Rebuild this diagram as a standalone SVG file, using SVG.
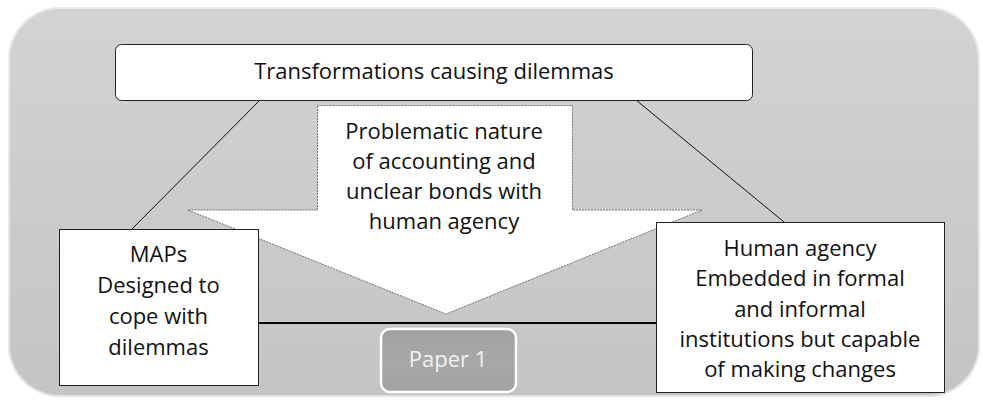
<svg xmlns="http://www.w3.org/2000/svg" width="983" height="400" viewBox="0 0 983 400">
  <defs>
    <linearGradient id="bg" x1="0" y1="0" x2="0" y2="1">
      <stop offset="0" stop-color="#d3d3d3"/>
      <stop offset="1" stop-color="#c4c4c4"/>
    </linearGradient>
    <linearGradient id="paper" x1="0" y1="0" x2="0" y2="1">
      <stop offset="0" stop-color="#a0a0a0"/>
      <stop offset="0.5" stop-color="#a8a8a8"/>
      <stop offset="1" stop-color="#a2a2a2"/>
    </linearGradient>
    <style>
      text { font-family: "Open Sans", "Liberation Sans", sans-serif; font-size: 22px; fill: #111; text-anchor: middle; }
      .box { fill: #ffffff; stroke: #222; stroke-width: 1; }
      .conn { stroke: #111; stroke-width: 1; fill: none; }
      .base { stroke: #000; stroke-width: 2; fill: none; }
    </style>
  </defs>

  <g id="background">
    <rect x="8" y="7" width="972" height="390" rx="52" fill="url(#bg)"/>
    <rect x="9" y="8" width="970" height="388" rx="51" fill="none" stroke="#ffffff" stroke-opacity="0.55" stroke-width="2"/>
  </g>

  <g id="connectors">
    <line class="conn" x1="260" y1="100" x2="132" y2="229"/>
    <line class="conn" x1="636" y1="100" x2="784" y2="222"/>
    <line class="base" x1="258" y1="323" x2="656" y2="323"/>
  </g>

  <g id="arrow">
    <path d="M317.5,105.5 L572.5,105.5 L572.5,210 L702,210 L446,314 L188,210 L317.5,210 Z" fill="#ffffff" stroke="#555" stroke-width="0.8" stroke-dasharray="2,1"/>
    <text x="444" y="139">Problematic nature</text>
    <text x="444" y="169">of accounting and</text>
    <text x="444" y="199">unclear bonds with</text>
    <text x="444" y="229">human agency</text>
  </g>

  <g id="top-node">
    <rect class="box" x="115.5" y="44.5" width="637" height="56" rx="6"/>
    <text x="434" y="79">Transformations causing dilemmas</text>
  </g>

  <g id="maps-node">
    <rect class="box" x="59.5" y="229.5" width="199" height="156"/>
    <text x="158.5" y="262">MAPs</text>
    <text x="158.5" y="293">Designed to</text>
    <text x="158.5" y="324">cope with</text>
    <text x="158.5" y="355">dilemmas</text>
  </g>

  <g id="human-node">
    <rect class="box" x="656.5" y="222.5" width="288" height="170"/>
    <text x="800" y="256">Human agency</text>
    <text x="800" y="286">Embedded in formal</text>
    <text x="800" y="317">and informal</text>
    <text x="800" y="347">institutions but capable</text>
    <text x="800" y="377">of making changes</text>
  </g>

  <g id="paper-node">
    <rect x="381" y="329" width="135" height="63" rx="9" fill="url(#paper)" stroke="#ffffff" stroke-width="2.5"/>
    <text x="448" y="367" style="fill:#f2f2f2">Paper 1</text>
  </g>
</svg>
